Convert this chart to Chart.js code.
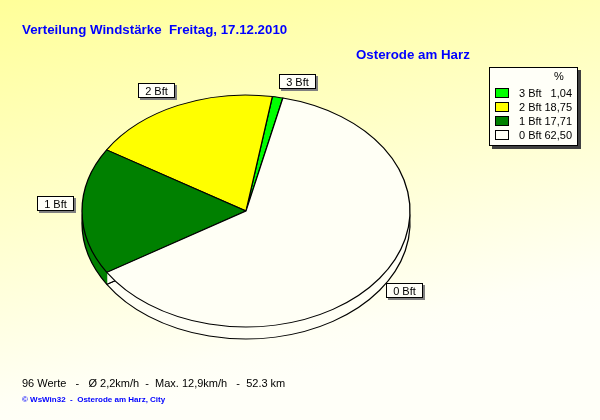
<!DOCTYPE html>
<html>
<head>
<meta charset="utf-8">
<script src="https://cdn.jsdelivr.net/npm/chart.js@4.4.1/dist/chart.umd.min.js"></script>
<style>
  html, body { margin: 0; padding: 0; background: #fff; overflow: hidden; }
  canvas { display: block; }
</style>
</head>
<body>
<canvas id="windChart" width="600" height="420"></canvas>
<script>
// Data
const categories = ['3 Bft', '2 Bft', '1 Bft', '0 Bft'];
const shares = [1.04, 18.75, 17.71, 62.50];
const sliceColors = ['#00FF00', '#FFFF00', '#008000', '#FFFFF5'];

const titleText = 'Verteilung Windstärke  Freitag, 17.12.2010';
const stationText = 'Osterode am Harz';
const statsText = '96 Werte   -   Ø 2,2km/h  -  Max. 12,9km/h   -  52.3 km';
const creditText = '© WsWin32  -  Osterode am Harz, City';

const FONT = "'Liberation Sans', Arial, sans-serif";

// pseudo 3D look: squashed, mirrored pie with a side wall
const PIE_X = 246;
const PIE_Y = 211;
const TILT = 116 / 164;
const DEPTH = 12;

function pieTransform(ctx, arc, dy) {
    ctx.translate(PIE_X, PIE_Y + dy);
    ctx.scale(-1, TILT);   // mirror so the slices run counter clockwise
    ctx.translate(-arc.x, -arc.y);
}

function drawGhost(ctx, arc, overrides) {
    const g = Object.create(arc);
    g.options = Object.assign({}, arc.options, overrides);
    g.draw(ctx);
}

const pie3dPlugin = {
    id: 'pie3d',
    beforeDatasetsDraw(chart) {
        const ctx = chart.ctx;
        const arcs = chart.getDatasetMeta(0).data;
        const c = arcs[0];
        // side wall
        for (let d = DEPTH; d >= 1; d--) {
            ctx.save();
            pieTransform(ctx, c, d);
            arcs.forEach(a => drawGhost(ctx, a, { borderWidth: 0 }));
            ctx.restore();
        }
        ctx.save();
        pieTransform(ctx, c, DEPTH);
        arcs.forEach(a => drawGhost(ctx, a, { backgroundColor: 'rgba(0,0,0,0)' }));
        ctx.restore();
        // top face is drawn by the controller with this transform
        ctx.save();
        pieTransform(ctx, c, 0);
    },
    afterDatasetsDraw(chart) {
        chart.ctx.restore();
    }
};

function boxWithShadow(ctx, x, y, w, h, shadow, shadowColor) {
    ctx.fillStyle = shadowColor;
    ctx.fillRect(x + shadow, y + shadow, w, h);
    ctx.fillStyle = '#FFFFF8';
    ctx.fillRect(x, y, w, h);
    ctx.strokeStyle = '#000';
    ctx.lineWidth = 1;
    ctx.strokeRect(x + 0.5, y + 0.5, w - 1, h - 1);
}

const decorPlugin = {
    id: 'decor',
    beforeDraw(chart) {
        const { ctx, width, height } = chart;
        const grad = ctx.createLinearGradient(0, 0, 90, height);
        grad.addColorStop(0, '#FFFF99');
        grad.addColorStop(0.92, '#FFFFF5');
        grad.addColorStop(1, '#FFFFF8');
        ctx.save();
        ctx.fillStyle = grad;
        ctx.fillRect(0, 0, width, height);
        ctx.restore();
    },
    afterDraw(chart) {
        const ctx = chart.ctx;
        const arcs = chart.getDatasetMeta(0).data;
        ctx.save();

        // titles
        ctx.textBaseline = 'alphabetic';
        ctx.textAlign = 'left';
        ctx.fillStyle = '#0000FF';
        ctx.font = 'bold 13.3px ' + FONT;
        ctx.fillText(titleText, 22, 34);
        ctx.fillText(stationText, 356, 59);

        // footer
        ctx.fillStyle = '#000';
        ctx.font = '11px ' + FONT;
        ctx.fillText(statsText, 22, 387);
        ctx.fillStyle = '#0000FF';
        ctx.font = 'bold 8px ' + FONT;
        ctx.fillText(creditText, 22, 402);

        // slice callouts, anchored by the corner that faces the pie
        ctx.font = '11px ' + FONT;
        ctx.textBaseline = 'middle';
        ctx.textAlign = 'center';
        arcs.forEach((a, i) => {
            const m = (a.startAngle + a.endAngle) / 2;
            const px = PIE_X - (a.outerRadius + 8) * Math.cos(m);
            const py = PIE_Y + (a.outerRadius * TILT + 8) * Math.sin(m);
            const w = Math.round(ctx.measureText(categories[i]).width) + 14;
            const h = 15;
            const bx = Math.round(px >= PIE_X ? px : px - w);
            const by = Math.round(py > PIE_Y + 1 ? py : py - h);
            boxWithShadow(ctx, bx, by, w, h, 2, '#808080');
            ctx.fillStyle = '#000';
            ctx.fillText(categories[i], bx + w / 2, by + h / 2 + 1);
        });

        // legend
        boxWithShadow(ctx, 489, 67, 89, 79, 3, '#404040');
        ctx.fillStyle = '#000';
        ctx.font = '11px ' + FONT;
        ctx.textAlign = 'center';
        ctx.fillText('%', 559, 77);
        categories.forEach((cat, i) => {
            const top = 88 + i * 14;
            ctx.fillStyle = sliceColors[i];
            ctx.fillRect(495, top, 14, 10);
            ctx.strokeStyle = '#000';
            ctx.strokeRect(495.5, top + 0.5, 13, 9);
            ctx.fillStyle = '#000';
            ctx.textAlign = 'left';
            ctx.fillText(cat, 519, top + 6);
            ctx.textAlign = 'right';
            ctx.fillText(shares[i].toFixed(2).replace('.', ','), 572, top + 6);
        });

        ctx.restore();
    }
};

new Chart(document.getElementById('windChart'), {
    type: 'pie',
    data: {
        labels: categories,
        datasets: [{
            data: shares,
            backgroundColor: sliceColors,
            borderColor: '#000',
            borderWidth: 1.3,
            radius: 164,
            clip: false
        }]
    },
    options: {
        responsive: false,
        maintainAspectRatio: false,
        devicePixelRatio: 1,
        animation: false,
        events: [],
        rotation: -13,
        layout: { padding: 0 },
        plugins: {
            legend: { display: false },
            title: { display: false },
            tooltip: { enabled: false }
        }
    },
    plugins: [pie3dPlugin, decorPlugin]
});
</script>
</body>
</html>
